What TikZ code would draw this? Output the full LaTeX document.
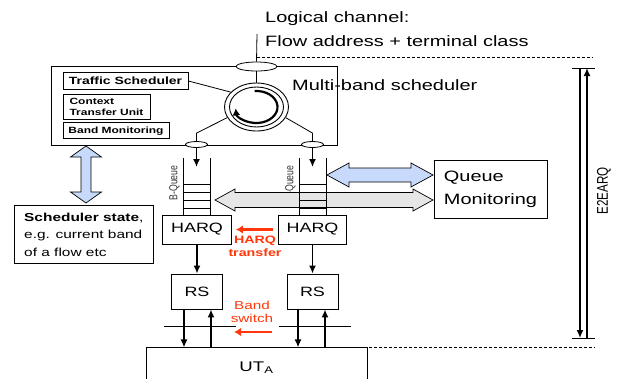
\documentclass[tikz,border=0pt]{standalone}
\usepackage{fontspec}
\setmainfont{Liberation Sans}[FakeStretch=1.33]
\newfontfamily\tallsf{Liberation Sans}[FakeStretch=0.75]
\usetikzlibrary{shapes.geometric,arrows.meta}
\definecolor{harqred}{RGB}{255,55,10}
\definecolor{blockblue}{RGB}{200,218,252}
\definecolor{blockgrey}{RGB}{230,230,230}
\tikzset{
  box/.style={draw, line width=0.9pt, inner sep=0pt},
  tag/.style={box, font=\bfseries\fontsize{9}{11}\selectfont, align=left},
  port/.style={draw, ellipse, inner sep=0pt, line width=0.8pt, fill=white},
  flow/.style={line width=1.5pt, -{Latex[length=8pt,width=7pt]}},
  redflow/.style={harqred, line width=2.6pt, -{Latex[length=7pt,width=8.5pt]}},
  blockarrow/.style={draw, line width=0.7pt},
  bigtxt/.style={inner sep=0pt, font=\fontsize{15}{22}\selectfont},
}
\begin{document}
\begin{tikzpicture}[x=1pt, y=-1pt]
  \useasboundingbox (0,0) rectangle (618,378);
  % logical channel input
  \node[bigtxt, anchor=west] (lc) at (265,19) {Logical channel:};
  \node[bigtxt, anchor=west] (fa) at (265,41) {Flow address + terminal class};
  \coordinate (chin) at (257,34);
  \draw[dashed, dash pattern=on 3pt off 2pt, line width=0.9pt] (257,57) -- (593,57);
  \draw[dashed, dash pattern=on 3pt off 2pt, line width=0.9pt] (304,347) -- (595,347);
  % multi-band scheduler
  \node[box, minimum width=286pt, minimum height=79pt] (sched) at (194,105.5) {};
  \node[bigtxt, anchor=west] (mbs) at (292,85) {Multi-band scheduler};
  \node[tag, minimum width=125pt, minimum height=16.6pt, font=\bfseries\fontsize{10.5}{12}\selectfont] (ts) at (125.5,81) {Traffic Scheduler};
  \node[tag, minimum width=87pt, minimum height=25pt] (ctu) at (106.5,106.5) {Context\\Transfer Unit};
  \node[tag, minimum width=106pt, minimum height=16pt] (bm) at (116,130.7) {Band Monitoring};
  \node[port, minimum width=41pt, minimum height=9pt] (tp) at (256.5,66.5) {};
  \node[draw, ellipse, line width=0.9pt, minimum width=64pt, minimum height=48pt] (rr) at (256.5,107) {};
  \node[draw, ellipse, line width=0.9pt, minimum width=54pt, minimum height=40pt] (rin) at (256.5,107) {};
  \draw[line width=2.2pt, -{Latex[length=7pt,width=8pt]}] ([shift={(-95:21 and 16)}]rr.center) arc[start angle=-95, end angle=175, x radius=21, y radius=16];
  \draw[line width=0.8pt] (chin) -- (tp.north);
  \draw[line width=0.8pt] (tp.south) -- (rr.north);
  \draw[line width=0.8pt] (ts.east) -- (rr.150);
  \node[port, minimum width=22pt, minimum height=6pt] (lport) at (196.5,144.5) {};
  \node[port, minimum width=22pt, minimum height=6pt] (rport) at (312.5,144.5) {};
  \draw[line width=0.8pt] (rr.200) -- ([yshift=8pt]lport.north) -- (lport.north);
  \draw[line width=0.8pt] (rr.340) -- ([yshift=8pt]rport.north) -- (rport.north);
  \coordinate (lqin) at (196.5,167);
  \coordinate (rqin) at (312.5,167);
  \draw[flow] (lport.south) -- (lqin);
  \draw[flow] (rport.south) -- (rqin);
  % queues
  \node[rotate=90, inner sep=0pt, font=\tallsf\fontsize{11.6}{12}\selectfont, text=black!80] (lql) at (174.5,183) {B-Queue};
  \node[rotate=90, inner sep=0pt, font=\tallsf\fontsize{11.6}{12}\selectfont, text=black!80] (rql) at (290.5,183) {B-Queue};
  \draw[blockarrow, fill=blockgrey] (215,200) -- (235,189) -- (235,192.5) -- (413,192.5) -- (413,189) -- (433,200)
    -- (413,211) -- (413,207.5) -- (235,207.5) -- (235,211) -- cycle;
  \draw[blockarrow, fill=blockblue] (327,175) -- (349,163) -- (349,168) -- (411,168) -- (411,163) -- (433,175)
    -- (411,187) -- (411,182) -- (349,182) -- (349,187) -- cycle;
  \draw[blockarrow, fill=blockblue] (86,146) -- (101.5,157) -- (91,157) -- (91,192) -- (101.5,192) -- (86,203)
    -- (70.5,192) -- (81,192) -- (81,157) -- (70.5,157) -- cycle;
  \foreach \qx in {196.5,312.5} {
    \draw[line width=0.9pt] (\qx-13.5,158) -- (\qx-13.5,215.5) (\qx+13.5,158) -- (\qx+13.5,215.5);
    \foreach \sy in {184,192,200,208}
      \draw[line width=0.8pt] (\qx-13.5,\sy) -- (\qx+13.5,\sy);
  }
  % monitoring and state
  \node[box, minimum width=113pt, minimum height=57.6pt, align=left, font=\fontsize{15}{23}\selectfont] (qmon) at (490.5,189.5) {Queue\\Monitoring};
  \node[box, minimum width=138.4pt, minimum height=57.6pt, align=left, font=\fontsize{11.6}{17.5}\selectfont] (sstate) at (83.8,234.5) {\textbf{Scheduler state},\\e.g. current band\\of a flow etc};
  % HARQ and RS
  \node[box, minimum width=69pt, minimum height=29pt, font=\fontsize{13.5}{14}\selectfont] (harqL) at (197,229.5) {HARQ};
  \node[box, minimum width=68pt, minimum height=29pt, font=\fontsize{13.5}{14}\selectfont] (harqR) at (312.5,229.5) {HARQ};
  \node[box, minimum width=51pt, minimum height=35pt, font=\fontsize{13.5}{14}\selectfont] (rsL) at (197,291.5) {RS};
  \node[box, minimum width=51pt, minimum height=35pt, font=\fontsize{13.5}{14}\selectfont] (rsR) at (312.5,291.5) {RS};
  \draw[flow] (harqL) -- (rsL);
  \draw[flow] (harqR) -- (rsR);
  \draw[redflow] ([xshift=-5pt]harqR.west) -- ([xshift=4pt]harqL.east);
  \node[align=center, inner sep=0pt, text=harqred, font=\bfseries\fontsize{10.7}{13}\selectfont] (ht) at (255,246.5) {HARQ\\transfer};
  \node[align=center, inner sep=0pt, text=harqred, font=\fontsize{11.5}{13}\selectfont] (bs) at (252,311.5) {Band\\switch};
  \coordinate (bsR) at (272,332);
  \coordinate (bsL) at (234,332);
  \draw[redflow] (bsR) -- (bsL);
  \draw[line width=0.9pt] (164,326) -- (236,326) (279,326) -- (351,326);
  % terminal
  \node[box, minimum width=221pt, minimum height=42pt, font=\fontsize{14}{15}\selectfont] (ut) at (256.5,368) {UT\textsubscript{A}};
  \draw[flow] ([xshift=-13pt]rsL.south) -- ++(0,38);
  \draw[flow] ([xshift=14pt]rsL.south) ++(0,38) -- ++(0,-38);
  \draw[flow] ([xshift=-14.5pt]rsR.south) -- ++(0,38);
  \draw[flow] ([xshift=12.5pt]rsR.south) ++(0,38) -- ++(0,-38);
  % end-to-end ARQ span
  \draw[line width=0.9pt] (572,68) -- (595,68) (572,338) -- (595,338);
  \draw[flow] (580,68) -- (580,338);
  \draw[flow] (587,338) -- (587,68);
  \node[rotate=90, inner sep=0pt, font=\tallsf\fontsize{15.5}{16}\selectfont] (e2e) at (604,191) {E2EARQ};
\end{tikzpicture}
\end{document}
